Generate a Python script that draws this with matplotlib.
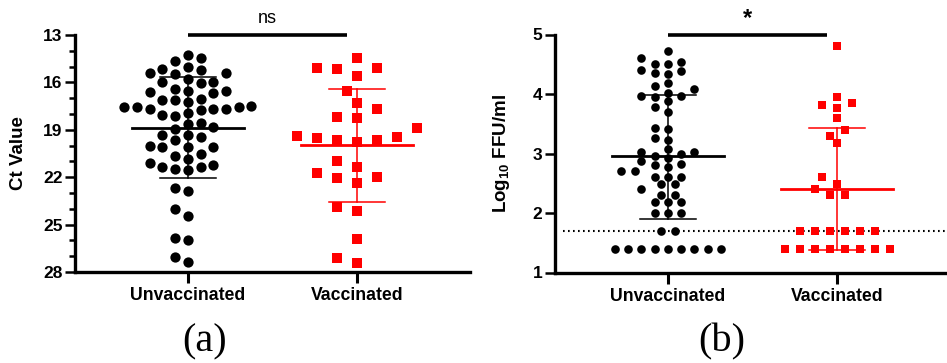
import numpy as np
import matplotlib
matplotlib.use("Agg")
import matplotlib.pyplot as plt
from matplotlib.ticker import MultipleLocator

plt.rcParams['font.family'] = ['Liberation Sans', 'DejaVu Sans']
plt.rcParams['mathtext.fontset'] = 'custom'
plt.rcParams['mathtext.rm'] = 'Liberation Sans:bold'
plt.rcParams['mathtext.bf'] = 'Liberation Sans:bold'

# --- data ---
groups = ["Unvaccinated", "Vaccinated"]

ct_unvacc = [14.27, 14.48, 14.63, 15.00, 15.22, 15.18, 15.43, 15.49, 15.42, 15.81,
             15.95, 16.00, 16.02, 16.53, 16.63, 16.44, 16.52, 16.70, 17.12, 17.10,
             17.02, 17.25, 17.68, 17.50, 17.54, 17.56, 17.55, 17.72, 17.66, 17.67,
             18.13, 17.94, 18.07, 18.60, 18.62, 18.83, 18.98, 19.34, 19.66, 19.44,
             19.33, 20.08, 20.10, 20.07, 20.03, 20.54, 20.67, 20.86, 21.35, 21.24,
             21.13, 21.56, 21.45, 21.34, 22.87, 22.68, 24.47, 24.04, 25.95, 25.85,
             27.36, 27.05]
ct_vacc = [14.48, 15.07, 15.10, 15.60, 15.15, 16.55, 17.33, 17.69, 18.17, 18.28,
           18.90, 19.38, 19.44, 19.50, 19.62, 19.65, 19.78, 20.97, 21.35, 21.76,
           21.97, 22.07, 22.37, 23.90, 24.12, 25.90, 27.10, 27.40]
ct_center = [18.87, 19.97]
ct_low = [15.68, 16.40]
ct_high = [22.08, 23.54]

ffu_unvacc = [4.72, 4.60, 4.54, 4.51, 4.50, 4.40, 4.38, 4.35, 4.33, 4.19,
              4.13, 4.08, 4.02, 3.95, 3.96, 3.97, 3.88, 3.78, 3.70, 3.43,
              3.41, 3.26, 3.22, 3.08, 3.03, 3.02, 3.00, 2.96, 2.93, 2.87,
              2.82, 2.80, 2.77, 2.70, 2.70, 2.60, 2.60, 2.60, 2.48, 2.48,
              2.40, 2.30, 2.30, 2.18, 2.18, 2.18, 2.00, 2.00, 2.00, 1.70,
              1.70, 1.40, 1.40, 1.40, 1.40, 1.40, 1.40, 1.40, 1.40, 1.40]
ffu_vacc = [4.81, 3.95, 3.85, 3.81, 3.77, 3.60, 3.39, 3.30, 3.17, 2.60,
            2.48, 2.40, 2.30, 2.30, 1.70, 1.70, 1.70, 1.70, 1.70, 1.70,
            1.40, 1.40, 1.40, 1.40, 1.40, 1.40, 1.40, 1.40]
ffu_center = [2.95, 2.40]
ffu_low = [1.90, 1.37]
ffu_high = [3.99, 3.43]
ffu_limit = 1.70

BLACK = "#000000"
RED = "#FF0000"


def swarm_x(ax, values, xc, step_px, sep_x, sep_y):
    """Column-style scatter: spread points sideways on a grid so they don't pile up."""
    vals = np.asarray(values, dtype=float)
    pts = ax.transData.transform(np.column_stack([np.full(vals.size, xc), vals]))
    ypix = pts[:, 1]
    px_per_x = ax.transData.transform([(xc + 1, vals[0])])[0, 0] - pts[0, 0]
    row_gap = np.ceil(sep_x / step_px - 1e-6) * step_px
    order = np.argsort(ypix, kind="stable")
    placed = []
    off = np.zeros(vals.size)

    def free(xs, y):
        for px, py in placed:
            for x in xs:
                if ((x - px) / sep_x) ** 2 + ((y - py) / sep_y) ** 2 < 1:
                    return False
        return True

    i = 0
    while i < len(order):
        j = i
        while j + 1 < len(order) and abs(ypix[order[j + 1]] - ypix[order[i]]) < 0.05:
            j += 1
        idx = order[i:j + 1]
        m = len(idx)
        y = ypix[idx[0]]
        base = (np.arange(m) - (m - 1) / 2) * row_gap
        patterns = [base]
        if m % 2 == 0:
            patterns.append(base + np.sign(base) * row_gap / 2)
        for s in range(1, 14):
            patterns += [base - s * step_px, base + s * step_px]
        choice = base
        for xs in patterns:
            if free(xs, y):
                choice = xs
                break
        for k, x in zip(idx, choice):
            off[k] = x
            placed.append((x, y))
        i = j + 1
    return xc + off / px_per_x


def style_axes(ax):
    for side in ("top", "right"):
        ax.spines[side].set_visible(False)
    for side in ("left", "bottom"):
        ax.spines[side].set_linewidth(2.4)
    ax.tick_params(axis="y", which="major", length=7, width=1.8, labelsize=12.5, pad=2)
    ax.tick_params(axis="y", which="minor", length=4, width=1.8)
    ax.tick_params(axis="x", length=8, width=2.2, labelsize=12.7, pad=3)
    ax.set_xlim(0.333, 2.667)
    ax.set_xticks([1, 2])
    ax.set_xticklabels(groups)
    for lab in ax.get_xticklabels() + ax.get_yticklabels():
        lab.set_fontweight("bold")


def draw_summary(ax, xc, center, low, high, color):
    ax.plot([xc - 0.33, xc + 0.33], [center, center], color=color, lw=2.0, zorder=4)
    ax.plot([xc, xc], [low, high], color=color, lw=1.1, zorder=4)
    for v in (low, high):
        ax.plot([xc - 0.165, xc + 0.165], [v, v], color=color, lw=1.1, zorder=4)


def sig_bar(ax, ytop, text, weight, size):
    ax.plot([1, 1.94], [ytop, ytop], color=BLACK, lw=2.6, clip_on=False,
            solid_capstyle="butt", zorder=5)
    ax.text(1.47, 1.068, text, transform=ax.get_xaxis_transform(),
            ha="center", va="center", fontsize=size, fontweight=weight)


fig = plt.figure(figsize=(9.47, 3.63), dpi=100)
ax_a = fig.add_axes([75 / 947, 1 - 272 / 363, 395 / 947, 237 / 363])
ax_b = fig.add_axes([555 / 947, 1 - 272.5 / 363, 395 / 947, 238 / 363])

# --- (a) Ct values ---
style_axes(ax_a)
ax_a.set_ylim(28, 13)
ax_a.set_yticks(np.arange(13, 29, 3))
ax_a.yaxis.set_minor_locator(MultipleLocator(1))
for lab in ax_a.get_yticklabels():
    lab.set_fontweight("bold")
ax_a.set_ylabel("Ct Value", fontsize=13.5, fontweight="bold")
ax_a.yaxis.set_label_coords(-0.122, 0.5)

xa1 = swarm_x(ax_a, ct_unvacc, 1, 12.7, 12.0, 10.5)
xa2 = swarm_x(ax_a, ct_vacc, 2, 10.0, 19.0, 14.0)
ax_a.scatter(xa1, ct_unvacc, s=7.4 ** 2, marker="o", color=BLACK, linewidths=0,
             zorder=3, clip_on=False)
ax_a.scatter(xa2, ct_vacc, s=7.2 ** 2, marker="s", color=RED, linewidths=0,
             zorder=3, clip_on=False)
draw_summary(ax_a, 1, ct_center[0], ct_low[0], ct_high[0], BLACK)
draw_summary(ax_a, 2, ct_center[1], ct_low[1], ct_high[1], RED)
sig_bar(ax_a, 13, "ns", "normal", 13)

# --- (b) viral titre ---
style_axes(ax_b)
ax_b.set_ylim(1, 5)
ax_b.set_yticks(np.arange(1, 6, 1))
for lab in ax_b.get_yticklabels():
    lab.set_fontweight("bold")
ax_b.set_ylabel(r"Log$_{10}$ FFU/ml", fontsize=13.5, fontweight="bold")
ax_b.yaxis.set_label_coords(-0.109, 0.5)

ax_b.axhline(ffu_limit, xmin=0.02, xmax=1, color=BLACK, lw=1.5,
             linestyle=(0, (0.8, 1.6)), zorder=2)
xb1 = swarm_x(ax_b, ffu_unvacc, 1, 13.3, 12.0, 8.0)
xb2 = swarm_x(ax_b, ffu_vacc, 2, 7.5, 14.0, 9.0)
ax_b.scatter(xb1, ffu_unvacc, s=6.2 ** 2, marker="o", color=BLACK, linewidths=0,
             zorder=3, clip_on=False)
ax_b.scatter(xb2, ffu_vacc, s=5.4 ** 2, marker="s", color=RED, linewidths=0,
             zorder=3, clip_on=False)
draw_summary(ax_b, 1, ffu_center[0], ffu_low[0], ffu_high[0], BLACK)
draw_summary(ax_b, 2, ffu_center[1], ffu_low[1], ffu_high[1], RED)
sig_bar(ax_b, 5, "*", "bold", 17)

# panel letters
fig.text(205 / 947, 1 - 342 / 363, "(a)", family="Liberation Serif", fontsize=29,
         ha="center", va="center")
fig.text(722 / 947, 1 - 342 / 363, "(b)", family="Liberation Serif", fontsize=29,
         ha="center", va="center")

fig.savefig("out.png", dpi=100)
